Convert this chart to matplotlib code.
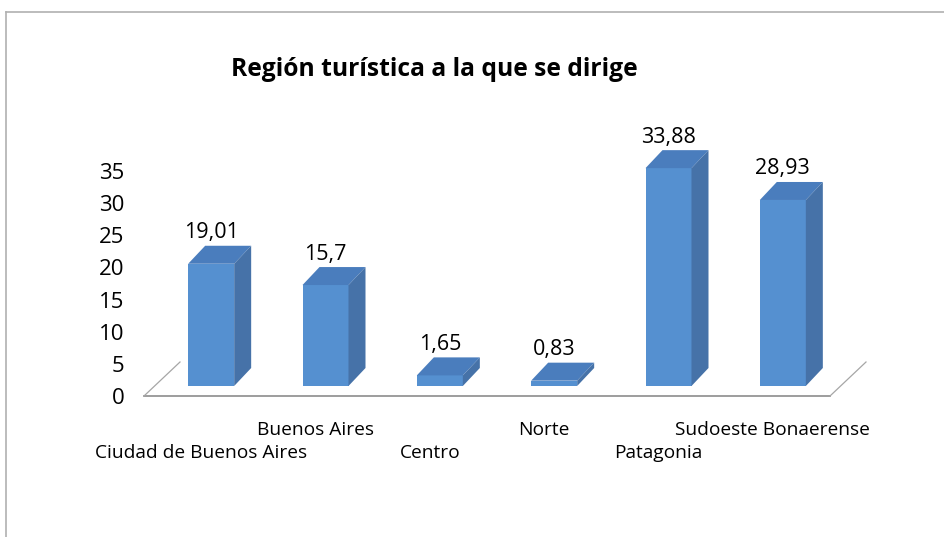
import matplotlib

matplotlib.use("Agg")
import matplotlib.pyplot as plt
from matplotlib.lines import Line2D
from matplotlib.patches import Polygon

REGIONS = [
    "Ciudad de Buenos Aires",
    "Buenos Aires",
    "Centro",
    "Norte",
    "Patagonia",
    "Sudoeste Bonaerense",
]
PERCENTS = [19.01, 15.7, 1.65, 0.83, 33.88, 28.93]
Y_TICKS = [0, 5, 10, 15, 20, 25, 30, 35]

FRONT = "#5590d0"
SIDE = "#4672a8"
TOP = "#4a7dbd"
FLOOR = "#8c8c8c"
FONT = ["Open Sans", "DejaVu Sans"]

W, H = 944, 537
plt.rcParams["font.family"] = FONT

fig = plt.figure(figsize=(W / 100, H / 100), dpi=100)
# axes in pixel layout: x -0.5..5.5 over 144..830 px, y=0 at 396 px
ax_left, ax_right, ax_zero = 144, 830, 396
px_per_unit = 6.43
ymax = 40
ax_h = ymax * px_per_unit
ax = fig.add_axes([ax_left / W, (H - ax_zero) / H, (ax_right - ax_left) / W, ax_h / H])
ax.set_xlim(-0.5, len(REGIONS) - 0.5)
ax.set_ylim(0, ymax)
for s in ax.spines.values():
    s.set_visible(False)

px_x = (ax_right - ax_left) / len(REGIONS)
to_dx = lambda p: p / px_x
to_dy = lambda p: p / px_per_unit

# 3D offsets (pixels -> data units)
front_dx, front_dy = to_dx(10), to_dy(10)
bar_dx, bar_dy = to_dx(17), to_dy(18)
floor_dx, floor_dy = to_dx(36), to_dy(34)
bar_w = to_dx(46)

# floor edges
x0, x1 = -0.5, len(REGIONS) - 0.5
ax.add_line(Line2D([x0, x1], [0, 0], color=FLOOR, lw=1.2, clip_on=False))
ax.add_line(Line2D([x0, x0 + floor_dx], [0, floor_dy], color="#a6a6a6", lw=0.9, clip_on=False))
ax.add_line(Line2D([x1, x1 + floor_dx], [0, floor_dy], color="#a6a6a6", lw=0.9, clip_on=False))

xs = [i + front_dx for i in range(len(REGIONS))]
ax.bar(xs, PERCENTS, width=bar_w, bottom=front_dy, color=FRONT, zorder=3)
for x, v in zip(xs, PERCENTS):
    l, r = x - bar_w / 2, x + bar_w / 2
    top = front_dy + v
    ax.add_patch(Polygon([(l, top), (l + bar_dx, top + bar_dy), (r + bar_dx, top + bar_dy), (r, top)],
                         closed=True, facecolor=TOP, edgecolor="none", zorder=3, clip_on=False))
    ax.add_patch(Polygon([(r, front_dy), (r + bar_dx, front_dy + bar_dy), (r + bar_dx, top + bar_dy), (r, top)],
                         closed=True, facecolor=SIDE, edgecolor="none", zorder=3, clip_on=False))
    ax.text(x, top + bar_dy + to_dy(13), f"{v:g}".replace(".", ","), ha="center", va="center",
            fontsize=15.5, color="black", clip_on=False)

ax.set_yticks(Y_TICKS)
ax.set_yticklabels([str(t) for t in Y_TICKS], fontsize=16)
ax.tick_params(axis="y", length=0, pad=14)
ax.set_xticks([])

# staggered category labels (odd ones upper row, even ones lower row)
trans = ax.get_xaxis_transform()
for i, name in enumerate(REGIONS):
    y_px = 430 if i % 2 else 453
    ax.text(i, (ax_zero - y_px) / ax_h, name, transform=trans, ha="center", va="center",
            fontsize=13.8, clip_on=False)

fig.text(434 / W, 1 - 70 / H, "Región turística a la que se dirige", ha="center", va="center",
         fontsize=17.7, fontweight="bold")

# chart frame (extends past the right and bottom edges)
fig.add_artist(Line2D([6 / W, 1], [1 - 12 / H] * 2, color="#b0b0b0", lw=1.2, transform=fig.transFigure))
fig.add_artist(Line2D([6 / W] * 2, [0, 1 - 12 / H], color="#b0b0b0", lw=1.2, transform=fig.transFigure))

fig.savefig("out.png", dpi=100)
